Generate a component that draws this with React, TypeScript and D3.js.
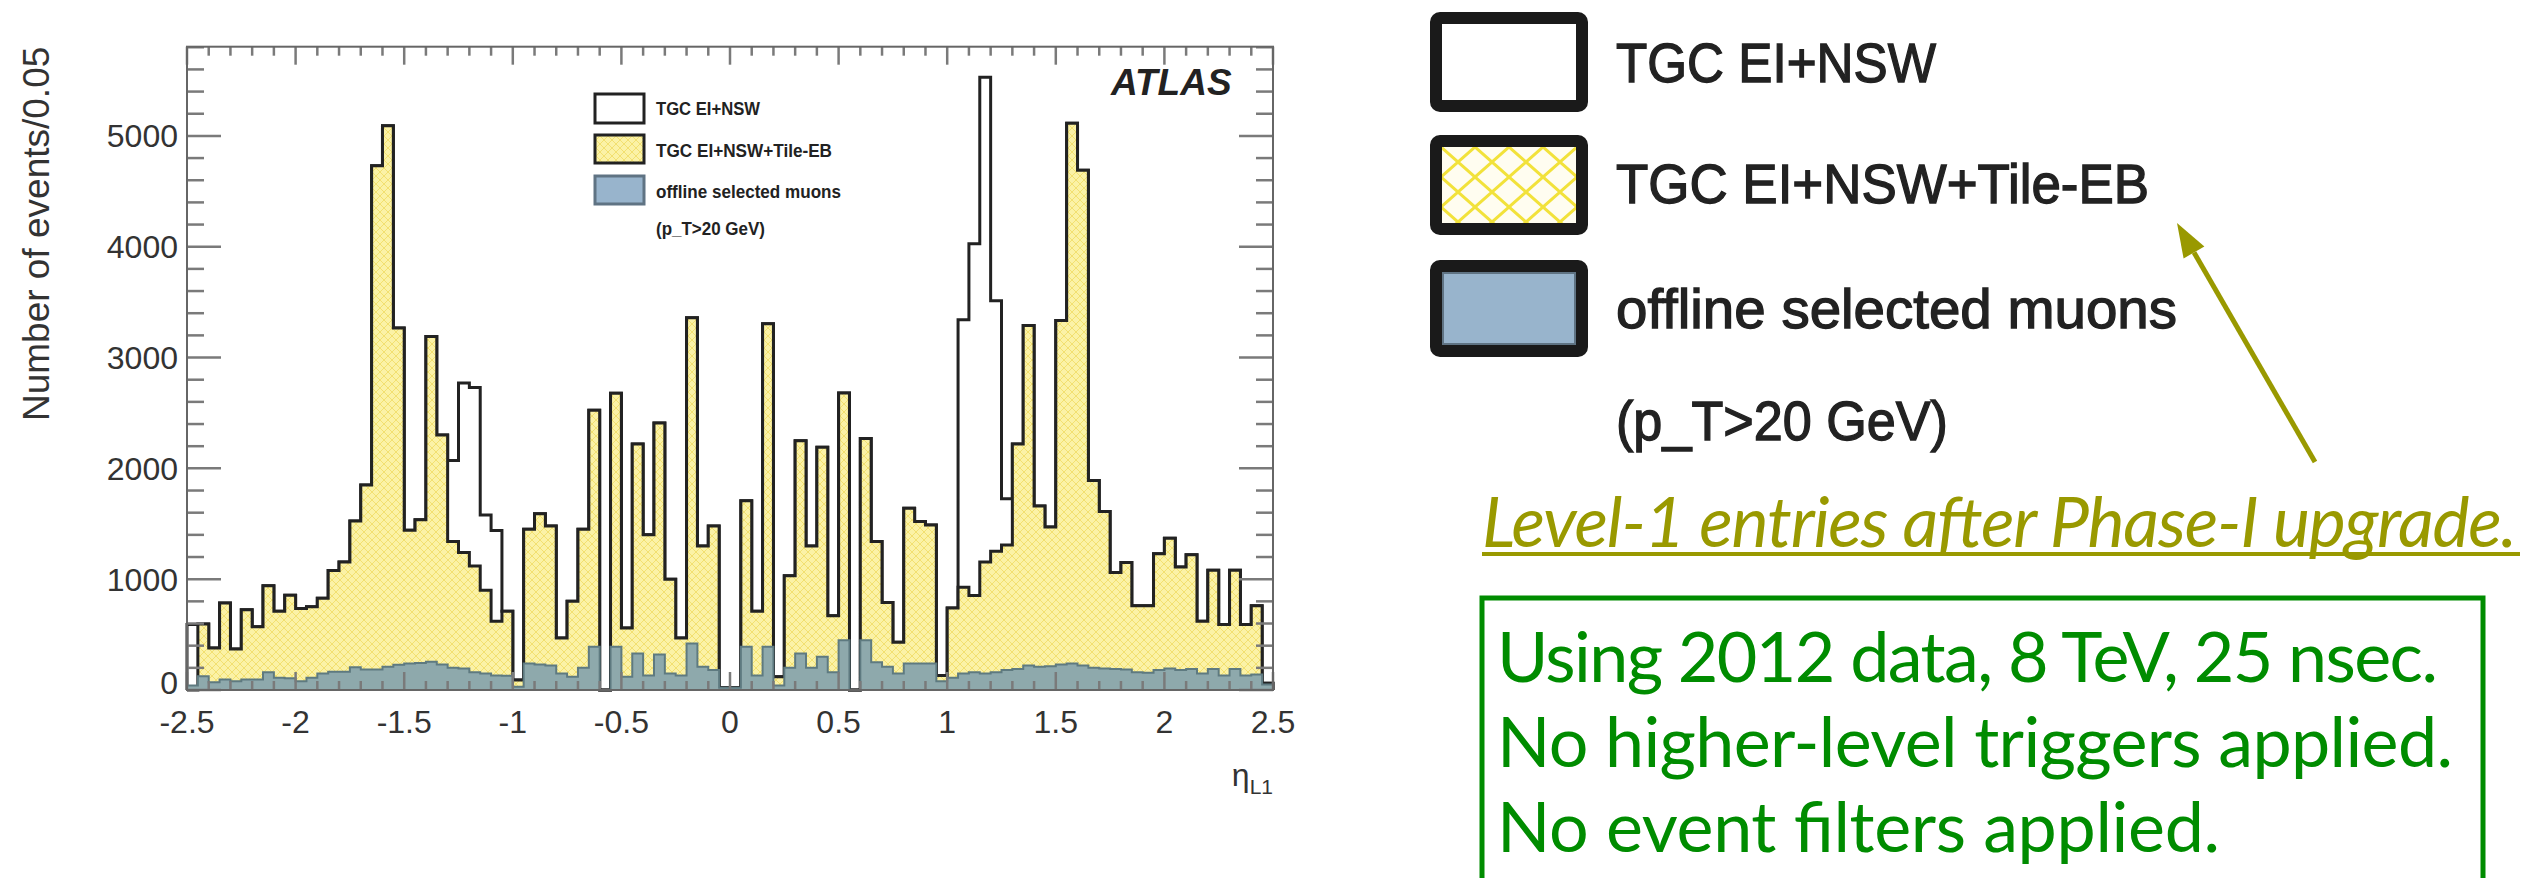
import React from 'react';
import * as d3 from 'd3';

// eta_L1 binning: 100 bins of 0.05 between -2.5 and 2.5
const etaRange: [number, number] = [-2.5, 2.5];
const binWidth = 0.05;

// TGC EI+NSW (open histogram)
const tgcEiNsw = [
  590, 595, 378, 785, 370, 725, 570, 940, 710, 855,
  735, 752, 828, 1078, 1154, 1524, 1850, 4730, 5091, 3266,
  1441, 1536, 3190, 2300, 2070, 2770, 2730, 1580, 1440, 710,
  90, 1450, 1590, 1480, 470, 800, 1450, 2525, 0, 2677,
  560, 2220, 1400, 2410, 1000, 470, 3360, 1300, 1480, 20,
  20, 1707, 710, 3304, 120, 1030, 2250, 1300, 2190, 670,
  2680, 0, 2270, 1340, 790, 430, 1640, 1520, 1490, 130,
  740, 3342, 4027, 5529, 3513, 1726, 2220, 3290, 1660, 1470,
  3335, 5115, 4690, 1890, 1610, 1060, 1150, 760, 760, 1230,
  1370, 1110, 1220, 620, 1080, 590, 1080, 590, 760, 60,
];

// TGC EI+NSW+Tile-EB (yellow hatched)
const tgcTileEb = [
  0, 595, 378, 785, 370, 725, 570, 940, 710, 855,
  735, 752, 828, 1078, 1154, 1524, 1850, 4730, 5091, 3266,
  1441, 1536, 3190, 2300, 1340, 1240, 1120, 900, 620, 710,
  90, 1450, 1590, 1480, 470, 800, 1450, 2525, 0, 2677,
  560, 2220, 1400, 2410, 1000, 470, 3360, 1300, 1480, 20,
  20, 1707, 710, 3304, 120, 1030, 2250, 1300, 2190, 670,
  2680, 0, 2270, 1340, 790, 430, 1640, 1520, 1490, 130,
  740, 928, 852, 1156, 1251, 1308, 2220, 3290, 1660, 1470,
  3335, 5115, 4690, 1890, 1610, 1060, 1150, 760, 760, 1230,
  1370, 1110, 1220, 620, 1080, 590, 1080, 590, 760, 60,
];

// offline selected muons, p_T > 20 GeV (blue)
const offlineMuons = [
  40, 123, 70, 95, 80, 95, 95, 160, 110, 105,
  80, 110, 150, 165, 165, 205, 185, 185, 210, 228,
  240, 243, 255, 230, 200, 195, 160, 150, 130, 128,
  30, 240, 230, 220, 150, 120, 200, 390, 0, 390,
  120, 330, 130, 320, 150, 130, 420, 210, 180, 20,
  20, 390, 130, 390, 40, 200, 330, 200, 300, 160,
  450, 0, 450, 250, 210, 150, 240, 240, 240, 80,
  110, 150, 160, 150, 160, 180, 190, 220, 210, 215,
  230, 240, 220, 200, 195, 190, 185, 160, 155, 180,
  195, 180, 190, 150, 190, 130, 190, 130, 140, 50,
];

const yTicks = [0, 1000, 2000, 3000, 4000, 5000];
const xTicks = [-2.5, -2, -1.5, -1, -0.5, 0, 0.5, 1, 1.5, 2, 2.5];
const legendLabels = ['TGC EI+NSW', 'TGC EI+NSW+Tile-EB', 'offline selected muons', '(p_T>20 GeV)'];
const noteLines = ['Using 2012 data, 8 TeV, 25 nsec.', 'No higher-level triggers applied.', 'No event filters applied.'];
const upgradeNote = 'Level-1  entries after Phase-I upgrade.';

const W = 2539;
const H = 878;
const frame = { left: 187, right: 1273, top: 46.7, bottom: 690 };
const font = '"Liberation Sans", Arial, Helvetica, sans-serif';
const olive = '#999900';
const green = '#008c00';

type Pt = { e: number; v: number };

// points for a ROOT-style step outline, closed down to zero at both ends
function stepPoints(values: number[]): Pt[] {
  const pts: Pt[] = [{ e: etaRange[0], v: 0 }];
  values.forEach((v, i) => pts.push({ e: etaRange[0] + i * binWidth, v }));
  pts.push({ e: etaRange[1], v: values[values.length - 1] });
  pts.push({ e: etaRange[1], v: 0 });
  return pts;
}

const App: React.FC = () => {
  const x = d3.scaleLinear().domain(etaRange).range([frame.left, frame.right]);
  const y = d3.scaleLinear().domain([0, 5805]).range([frame.bottom, frame.top]);

  const line = d3.line<Pt>().x(d => x(d.e)).y(d => y(d.v)).curve(d3.curveStepAfter);
  const area = d3.area<Pt>().x(d => x(d.e)).y0(y(0)).y1(d => y(d.v)).curve(d3.curveStepAfter);

  const white = stepPoints(tgcEiNsw);
  const yellow = stepPoints(tgcTileEb);
  const blue = stepPoints(offlineMuons);

  // tick positions
  const yMinor = d3.range(0, 5801, 200).filter(v => v % 1000 !== 0);
  const xMinor = d3.range(-25, 26, 1).map(v => v / 10).filter(v => Math.abs(v * 2 - Math.round(v * 2)) > 1e-6);

  // olive arrow
  const tail = { x: 2315, y: 462 };
  const tip = { x: 2177, y: 223 };
  const dx = tip.x - tail.x, dy = tip.y - tail.y;
  const len = Math.hypot(dx, dy);
  const ux = dx / len, uy = dy / len;
  const headLen = 34, headHalf = 12;
  const bx = tip.x - ux * headLen, by = tip.y - uy * headLen;
  const head = `${tip.x},${tip.y} ${bx - uy * headHalf},${by + ux * headHalf} ${bx + uy * headHalf},${by - ux * headHalf}`;

  const innerBoxes = [94, 135, 176];
  const bigBoxes = [12, 135, 260];
  const bigBaselines = [82, 203, 328, 440];
  const bigWidths = [320, 533, 561, 332];
  const innerWidths = [104, 176, 185, 109];

  return (
    <svg width={W} height={H} style={{ position: 'absolute', left: 0, top: 0, background: '#fff' }} fontFamily={font}>
      <defs>
        <pattern id="hatch" width={8} height={8} patternUnits="userSpaceOnUse">
          <rect width={8} height={8} fill="#fbf2a6" />
          <path d="M0,0 L8,8 M8,0 L0,8" stroke="#f2e070" strokeWidth={1} />
        </pattern>
        <pattern id="hatchBig" x={1441} y={147} width={34} height={30} patternUnits="userSpaceOnUse">
          <rect width={34} height={30} fill="#fffdf0" />
          <path d="M0,0 L34,30 M34,0 L0,30" stroke="#f2e23a" strokeWidth={3} />
        </pattern>
      </defs>

      {/* histograms */}
      <path d={area(white) || ''} fill="#fff" />
      <path d={line(white) || ''} fill="none" stroke="#222" strokeWidth={3} />
      <path d={area(yellow) || ''} fill="url(#hatch)" />
      <path d={line(yellow) || ''} fill="none" stroke="#222" strokeWidth={3} />
      <path d={area(blue) || ''} fill="#8ea9ac" />
      <path d={line(blue) || ''} fill="none" stroke="#5e7a80" strokeWidth={2} />

      {/* axes ticks */}
      <g stroke="#7a7a7a" strokeWidth={2.5}>
        {yTicks.map(t => (
          <g key={`ym${t}`}>
            <line x1={frame.left} x2={frame.left + 34} y1={y(t)} y2={y(t)} />
            <line x1={frame.right} x2={frame.right - 34} y1={y(t)} y2={y(t)} />
          </g>
        ))}
        {yMinor.map(t => (
          <g key={`yn${t}`}>
            <line x1={frame.left} x2={frame.left + 17} y1={y(t)} y2={y(t)} />
            <line x1={frame.right} x2={frame.right - 17} y1={y(t)} y2={y(t)} />
          </g>
        ))}
        {xTicks.map(t => (
          <g key={`xm${t}`}>
            <line x1={x(t)} x2={x(t)} y1={frame.bottom} y2={frame.bottom - 18} />
            <line x1={x(t)} x2={x(t)} y1={frame.top} y2={frame.top + 18} />
          </g>
        ))}
        {xMinor.map(t => (
          <g key={`xn${t}`}>
            <line x1={x(t)} x2={x(t)} y1={frame.bottom} y2={frame.bottom - 9} />
            <line x1={x(t)} x2={x(t)} y1={frame.top} y2={frame.top + 9} />
          </g>
        ))}
      </g>
      <rect x={frame.left} y={frame.top} width={frame.right - frame.left} height={frame.bottom - frame.top}
        fill="none" stroke="#666" strokeWidth={2} />

      {/* tick labels */}
      <g fontSize={32} fill="#333">
        {yTicks.map(t => (
          <text key={`yl${t}`} x={frame.left - 9} y={y(t)} dy={t === 0 ? '0.12em' : '0.36em'} textAnchor="end">{t}</text>
        ))}
        {xTicks.map(t => (
          <text key={`xl${t}`} x={x(t)} y={733} textAnchor="middle">{t}</text>
        ))}
      </g>

      {/* axis titles */}
      <text transform={`translate(49,${frame.top}) rotate(-90)`} textAnchor="end" fontSize={37} fill="#333">
        Number of events/0.05
      </text>
      <text x={frame.right} y={786} textAnchor="end" fontSize={32} fill="#333">
        η<tspan fontSize={21} dy={8}>L1</tspan>
      </text>

      <text x={1111} y={95} fontSize={37} fontWeight="bold" fontStyle="italic" fill="#222">ATLAS</text>

      {/* inner legend */}
      <rect x={595} y={innerBoxes[0]} width={49} height={29} fill="#fff" stroke="#222" strokeWidth={3} />
      <rect x={595} y={innerBoxes[1]} width={49} height={28} fill="url(#hatch)" stroke="#222" strokeWidth={3} />
      <rect x={595} y={innerBoxes[2]} width={49} height={28} fill="#98b4cc" stroke="#5f7383" strokeWidth={3} />
      <g fontSize={18} fill="#222" fontWeight="bold">
        {legendLabels.map((l, i) => (
          <text key={l} x={656} y={[115, 157, 198, 235][i]} textLength={innerWidths[i]}
            lengthAdjust="spacingAndGlyphs">{l}</text>
        ))}
      </g>

      {/* enlarged legend */}
      <rect x={1436} y={bigBoxes[0] + 6} width={146} height={88} rx={4} fill="#fff" stroke="#1a1a1a" strokeWidth={12} />
      <rect x={1436} y={bigBoxes[1] + 6} width={146} height={88} rx={4} fill="url(#hatchBig)" stroke="#1a1a1a" strokeWidth={12} />
      <rect x={1436} y={bigBoxes[2] + 6} width={146} height={85} rx={4} fill="#5f7383" stroke="#1a1a1a" strokeWidth={12} />
      <rect x={1444} y={bigBoxes[2] + 14} width={130} height={69} fill="#98b4cc" />
      <g fontSize={55} fill="#222" stroke="#222" strokeWidth={1.3}>
        {legendLabels.map((l, i) => (
          <text key={`b${l}`} x={1616} y={bigBaselines[i]} textLength={bigWidths[i]}
            lengthAdjust="spacingAndGlyphs">{l}</text>
        ))}
      </g>

      {/* arrow to the Tile-EB entry */}
      <line x1={tail.x} y1={tail.y} x2={bx} y2={by} stroke={olive} strokeWidth={5} />
      <polygon points={head} fill={olive} />

      <text x={1482} y={547} fontFamily='Lato, "Open Sans", sans-serif' fontStyle="italic" fontSize={70}
        fill={olive} textLength={1035}>{upgradeNote}</text>
      <line x1={1482} x2={2520} y1={554} y2={554} stroke={olive} strokeWidth={4} />

      {/* green note box */}
      <rect x={1482} y={598} width={1001} height={320} fill="none" stroke={green} strokeWidth={5} />
      <g fontFamily='Lato, "Open Sans", sans-serif' fontSize={70} fill={green}>
        {noteLines.map((l, i) => (
          <text key={l} x={1497} y={682 + i * 85} textLength={[941, 956, 723][i]}>{l}</text>
        ))}
      </g>
    </svg>
  );
};

export default App;
